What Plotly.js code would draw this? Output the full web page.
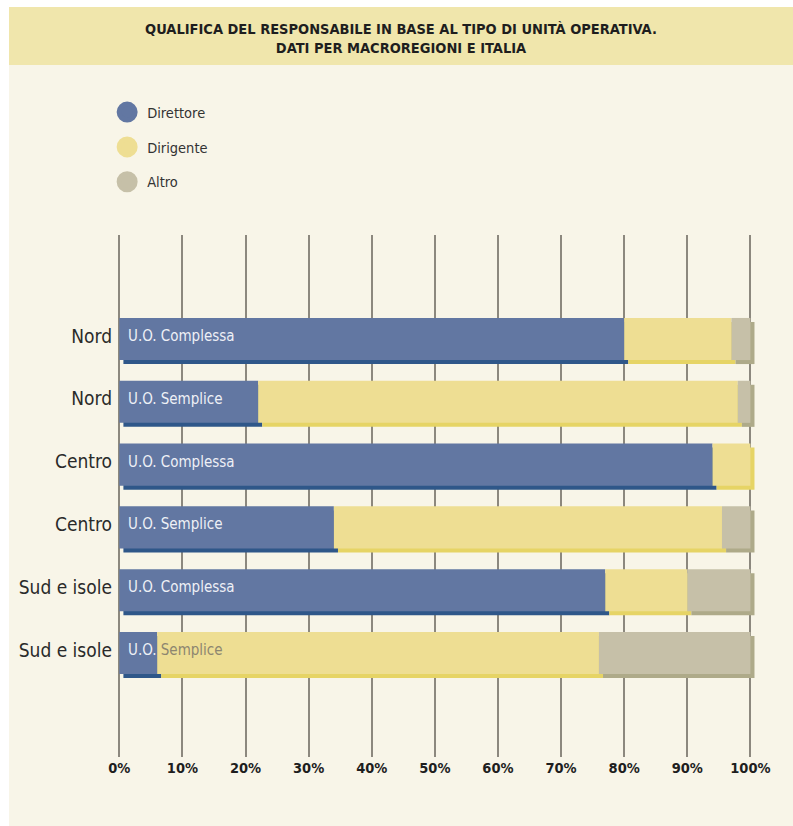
<!DOCTYPE html>
<html>
<head>
<meta charset="utf-8">
<script src="https://cdn.plot.ly/plotly-3.0.1.min.js"></script>
<style>
  html, body { margin: 0; padding: 0; background: #ffffff; }
  #chart { position: absolute; left: 9px; top: 7px; width: 784px; height: 819px; }
</style>
</head>
<body>
<div id="chart"></div>
<script>
// ---- data ----
const regions   = ["Nord", "Nord", "Centro", "Centro", "Sud e isole", "Sud e isole"];
const unitTypes = ["U.O. Complessa", "U.O. Semplice", "U.O. Complessa", "U.O. Semplice", "U.O. Complessa", "U.O. Semplice"];
const direttore = [80, 22, 94, 34, 77, 6];
const dirigente = [17, 76, 6, 61.5, 13, 70];
const altro     = [3, 2, 0, 4.5, 10, 24];
const seriesNames = ["Direttore", "Dirigente", "Altro"];
const xTickVals = [0, 10, 20, 30, 40, 50, 60, 70, 80, 90, 100];
const xTickText = ["0%", "10%", "20%", "30%", "40%", "50%", "60%", "70%", "80%", "90%", "100%"];

// ---- styles ----
const FONT = "'Liberation Sans Narrow', 'DejaVu Sans Condensed', 'Arial Narrow', sans-serif";
const mainColors   = ["#6277a2", "#eede93", "#c6c0a8"];
const shadowColors = ["#2f5789", "#e6d465", "#aeaa89"];
const BAR_W = 0.67;
const SHADOW_DY = 0.064;   // category units
const SHADOW_DX = 0.65;    // percent units

const rows = regions.map((_, i) => i);
const series = [direttore, dirigente, altro];
const bases = [];
let cum = rows.map(() => 0);
series.forEach(s => { bases.push(cum.slice()); cum = cum.map((c, i) => c + s[i]); });

const traces = [];
// shadows (behind)
series.forEach((s, k) => {
  traces.push({
    type: "bar", orientation: "h", y: rows, x: s,
    base: bases[k].map(b => b + SHADOW_DX),
    width: BAR_W, offset: -BAR_W / 2 + SHADOW_DY,
    marker: { color: shadowColors[k], line: { width: 0 } },
    showlegend: false, hoverinfo: "skip"
  });
});
// main bars
series.forEach((s, k) => {
  traces.push({
    type: "bar", orientation: "h", y: rows, x: s, base: bases[k],
    width: BAR_W, offset: -BAR_W / 2,
    marker: { color: mainColors[k], line: { width: 0 } },
    name: seriesNames[k], showlegend: false
  });
});
// legend entries (circles)
seriesNames.forEach((n, k) => {
  traces.push({
    type: "scatter", mode: "markers", x: [null], y: [null], name: n,
    legendgroup: n,
    marker: { symbol: "circle", size: 16, color: mainColors[k], line: { color: mainColors[k], width: 5 } }
  });
});

const annotations = rows.map(i => {
  let txt = unitTypes[i];
  if (direttore[i] < 15) {
    const parts = txt.split(" ");
    txt = parts[0] + " <span style='color:#8d8670'>" + parts.slice(1).join(" ") + "</span>";
  }
  return {
    x: 0, y: i, xref: "x", yref: "y", xanchor: "left", yanchor: "middle",
    xshift: 7, yshift: 3, text: txt, showarrow: false,
    font: { family: FONT, size: 15, color: "#eef0f6" }
  };
});

const layout = {
  width: 784, height: 819,
  margin: { l: 104, r: 30, t: 228, b: 69 },
  paper_bgcolor: "#f8f5e8", plot_bgcolor: "#f8f5e8",
  barmode: "overlay",
  title: {
    text: "QUALIFICA DEL RESPONSABILE IN BASE AL TIPO DI UNITÀ OPERATIVA.<br>DATI PER MACROREGIONI E ITALIA",
    font: { family: FONT, size: 14.5, color: "#1e1e1e", weight: "bold" },
    x: 0.5, xref: "container", xanchor: "center",
    y: 0.9665, yref: "container", yanchor: "middle"
  },
  xaxis: {
    range: [-1, 102], tickvals: xTickVals, ticktext: xTickText,
    showgrid: true, gridcolor: "#8c887e", gridwidth: 2,
    zeroline: true, zerolinecolor: "#8c887e", zerolinewidth: 2,
    showline: false, ticks: "",
    tickfont: { family: FONT, size: 14.5, color: "#1e1e1e", weight: "bold" },
    fixedrange: true
  },
  yaxis: {
    range: [6.656, -1.656], tickvals: rows, ticktext: regions,
    showgrid: false, zeroline: false, showline: false, ticks: "",
    ticklabelshift: 3,
    tickfont: { family: FONT, size: 19, color: "#2a2a2a" },
    fixedrange: true
  },
  showlegend: true,
  legend: {
    x: -0.009, xanchor: "left", y: 1.266, yanchor: "top",
    bgcolor: "rgba(0,0,0,0)", tracegroupgap: 13,
    font: { family: FONT, size: 14.5, color: "#333333" },
    itemsizing: "trace"
  },
  shapes: [{
    type: "rect", xref: "paper", yref: "paper", layer: "below",
    x0: -0.3, x1: 1.2, y0: 1.3257, y1: 1.6,
    fillcolor: "#f0e6ac", line: { width: 0 }
  }],
  annotations: annotations
};

Plotly.newPlot("chart", traces, layout, { displayModeBar: false, staticPlot: true });
</script>
</body>
</html>
